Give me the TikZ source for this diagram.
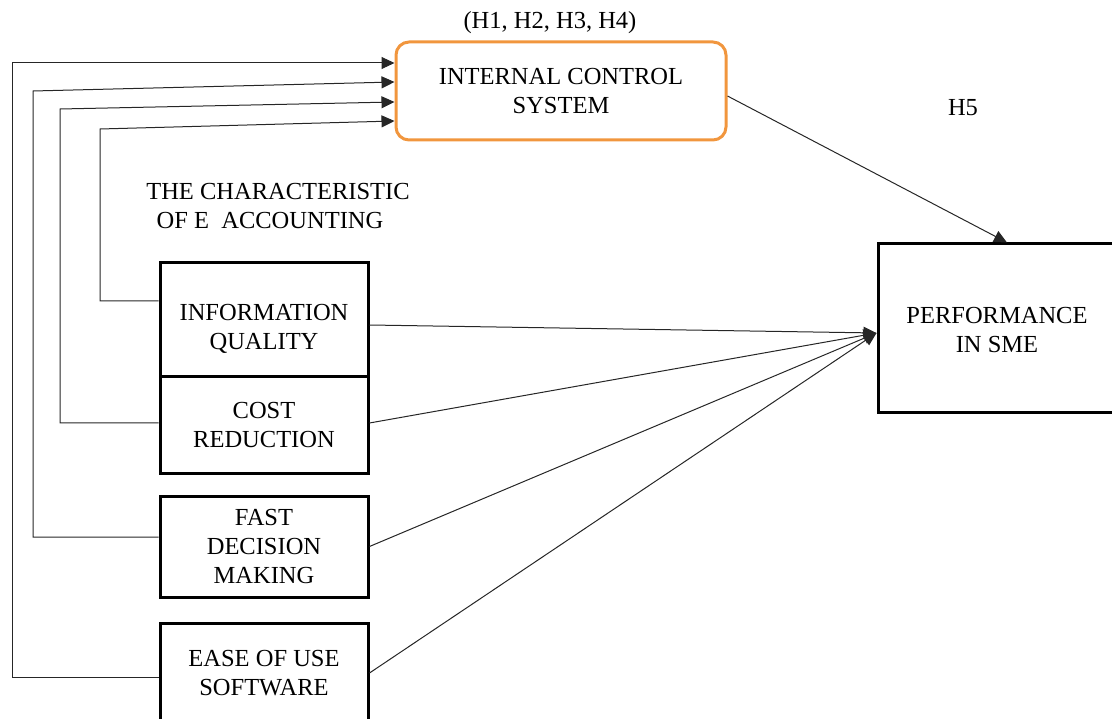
\documentclass[tikz,border=0pt]{standalone}
\usepackage{fontspec}
\setmainfont{Liberation Serif}
\usetikzlibrary{arrows.meta}
\definecolor{icsorange}{RGB}{241,150,62}
\newcommand{\boxtext}[2]{\raisebox{#1}[0pt][0pt]{\begin{tabular}{@{}c@{}}#2\end{tabular}}}
\begin{document}
\begin{tikzpicture}
[x=1pt,y=-1pt,
font=\fontsize{24.5}{29}\selectfont,
factor/.style={draw,line width=3pt,align=center,minimum width=208pt,inner sep=0pt},
ctrl/.style={draw=icsorange,line width=3pt,rounded corners=13pt,align=center,minimum width=330pt,minimum height=98pt},
result/.style={draw,line width=3pt,align=center,minimum width=238pt,minimum height=169pt},
link/.style={line width=1pt,black!85,-{Triangle[length=13pt,width=12pt]}},
fb/.style={line width=1pt,black!85,-{Triangle[length=13pt,width=12pt]}}]
\useasboundingbox (0,0) rectangle (1112,719);
%boxes
	\node[ctrl] (ics) at (561,91) {INTERNAL CONTROL\\SYSTEM};
	\node[result] (perf) at (997,328.5) {\boxtext{-10pt}{PERFORMANCE\\IN SME}};
	\node[factor,minimum height=114pt] (info) at (264,320) {\boxtext{-15pt}{INFORMATION\\QUALITY}};
	\node[factor,minimum height=96pt] (cost) at (264,425) {COST\\REDUCTION};
	\node[factor,minimum height=101pt] (fast) at (264,546.5) {FAST\\DECISION\\MAKING};
	\node[factor,minimum height=100pt] (ease) at (264,673) {EASE OF USE\\SOFTWARE};
%labels
	\node (hyp) at (550,23) {(H1, H2, H3, H4)};
	\node (h5) at (963,108) {H5};
	\node[align=center] (charac) at (278,206) {THE CHARACTERISTIC\\\hspace*{-16pt}OF E\ \ ACCOUNTING};
%to performance
	\draw[link] ([yshift=-5pt]ics.east) -- ([xshift=10pt]perf.north);
	\draw[link] ([yshift=-5pt]info.east) -- ([yshift=-4.5pt]perf.west);
	\draw[link] ([yshift=2pt]cost.east) -- ([yshift=-4.5pt]perf.west);
	\draw[link] (fast.east) -- ([yshift=-4.5pt]perf.west);
	\draw[link] (ease.east) -- ([yshift=-4.5pt]perf.west);
%feedback
	\draw[fb] ([yshift=19pt]info.west) -- (100,301) -- (100,129) -- ([yshift=-30pt]ics.west);
	\draw[fb] ([yshift=2pt]cost.west) -- (60,423) -- (60,109) -- ([yshift=-11pt]ics.west);
	\draw[fb] ([yshift=9.5pt]fast.west) -- (33,537) -- (33,91) -- ([yshift=9pt]ics.west);
	\draw[fb] ([yshift=-4pt]ease.west) -- (12,677) -- (12,63) -- ([yshift=28pt]ics.west);
\end{tikzpicture}
\end{document}
